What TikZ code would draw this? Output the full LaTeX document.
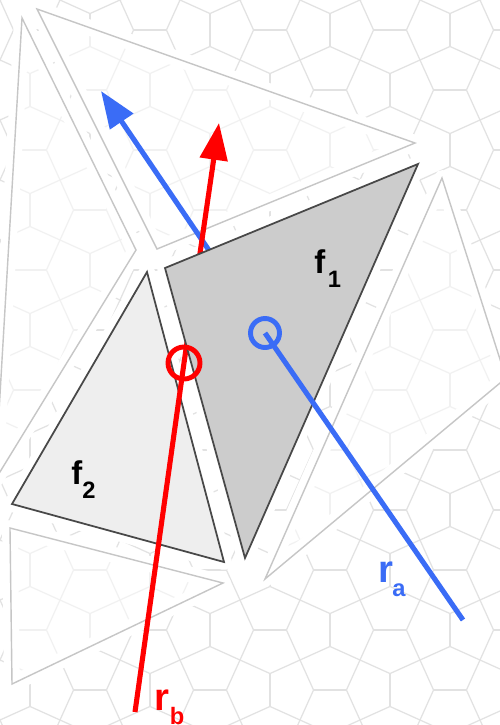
\documentclass[tikz,border=0pt]{standalone}
\usepackage{fontspec}
\setmainfont{Liberation Sans}
\usetikzlibrary{arrows.meta}
\definecolor{rayblue}{RGB}{58,108,246}
\definecolor{rayred}{RGB}{255,0,0}
\definecolor{patline}{RGB}{226,226,226}
\definecolor{faintline}{RGB}{198,198,198}
\definecolor{fonefill}{RGB}{204,204,204}
\definecolor{ftwofill}{RGB}{238,238,238}
\definecolor{edgecol}{RGB}{72,72,72}
\begin{document}
\begin{tikzpicture}[x=0.02cm,y=-0.02cm,
  pat/.style={draw=patline,line width=0.7pt,line join=round},
  faintfill/.style={fill=white,fill opacity=0.55},
  faintedge/.style={draw=faintline,line width=0.8pt,line join=miter},
  halo/.style={draw=white,line width=9pt,line join=round},
  face/.style={draw=edgecol,line width=1pt,line join=miter},
  ray/.style={line width=2.9pt},
  tip/.style={-{Triangle[length=21pt,width=15.5pt]}},
  ring/.style={line width=2.8pt},
  lab/.style={anchor=base west,inner sep=0pt}]
\useasboundingbox (0,0) rectangle (500,725);
\fill[white] (0,0) rectangle (500,725);
% background tiling
\begin{scope}
\clip (0,0) rectangle (500,725);
\foreach \i in {-1,...,8}{\foreach \j in {-1,...,12}{
  \pgfmathtruncatemacro\pp{mod(\i+\j+10,2)}
  \ifnum\pp=0
    \draw[pat] (\i*60,\j*60) -- (\i*60+13.54,\j*60+30) -- (\i*60,\j*60+60);
    \draw[pat] (\i*60+13.54,\j*60+30) -- (\i*60+46.46,\j*60+30);
    \draw[pat] (\i*60+60,\j*60) -- (\i*60+46.46,\j*60+30) -- (\i*60+60,\j*60+60);
  \else
    \draw[pat] (\i*60,\j*60) -- (\i*60+30,\j*60+13.54) -- (\i*60+60,\j*60);
    \draw[pat] (\i*60+30,\j*60+13.54) -- (\i*60+30,\j*60+46.46);
    \draw[pat] (\i*60,\j*60+60) -- (\i*60+30,\j*60+46.46) -- (\i*60+60,\j*60+60);
  \fi
}}
\end{scope}
% faint triangles
\coordinate (ta1) at (22,18);   \coordinate (ta2) at (136,250); \coordinate (ta3) at (-5,480);
\coordinate (tb1) at (37,9);    \coordinate (tb2) at (415,143); \coordinate (tb3) at (157,249);
\coordinate (tc1) at (442,178); \coordinate (tc2) at (506,378); \coordinate (tc3) at (265,579);
\coordinate (td1) at (10,528);  \coordinate (td2) at (223,583); \coordinate (td3) at (12,684);
\foreach \t in {a,b,c,d}{\draw[halo] (t\t1) -- (t\t2) -- (t\t3) -- cycle;}
\foreach \t in {a,b,c,d}{\fill[faintfill] (t\t1) -- (t\t2) -- (t\t3) -- cycle;}
\foreach \t in {a,b,c,d}{\draw[faintedge] (t\t1) -- (t\t2) -- (t\t3) -- cycle;}
% faces
\coordinate (fa1) at (165,268); \coordinate (fa2) at (418,164); \coordinate (fa3) at (245,558);
\coordinate (fb1) at (147,272); \coordinate (fb2) at (224,562); \coordinate (fb3) at (12,504);
\draw[halo] (fa1) -- (fa2) -- (fa3) -- cycle;
\draw[halo] (fb1) -- (fb2) -- (fb3) -- cycle;
% rays
\coordinate (bs) at (463,620); \coordinate (bc) at (265,333); \coordinate (bt) at (101,91);
\coordinate (rs) at (135,712); \coordinate (rc) at (184,363); \coordinate (rt) at (219,123);
\draw[ray,rayblue,tip] (bc) -- (bt);
\draw[ray,rayred,tip] (rc) -- (rt);
\draw[face,fill=fonefill] (fa1) -- (fa2) -- (fa3) -- cycle;
\draw[face,fill=ftwofill] (fb1) -- (fb2) -- (fb3) -- cycle;
\draw[ray,rayblue] (bs) -- (bc);
\draw[ray,rayred] (rs) -- (rc);
\draw[ring,rayblue] (bc) circle (14.5);
\draw[ring,rayred] (rc) circle (16);
% labels
\node[lab,font=\bfseries\fontsize{18.7}{20}\selectfont] (lf1) at (314,273) {f\kern1.5pt\raisebox{-8pt}{\fontsize{13.5}{14}\selectfont 1}};
\node[lab,font=\bfseries\fontsize{18.7}{20}\selectfont] (lf2) at (71,484) {f\raisebox{-8pt}{\fontsize{13.5}{14}\selectfont 2}};
\node[lab,font=\bfseries\fontsize{21.8}{22}\selectfont,text=rayblue] (lra) at (378.5,582) {r\kern-0.8pt\raisebox{-8.5pt}{\fontsize{13.5}{14}\selectfont a}};
\node[lab,font=\bfseries\fontsize{21.8}{22}\selectfont,text=rayred] (lrb) at (154.5,710) {r\raisebox{-8pt}{\fontsize{13.5}{14}\selectfont b}};
\end{tikzpicture}
\end{document}
